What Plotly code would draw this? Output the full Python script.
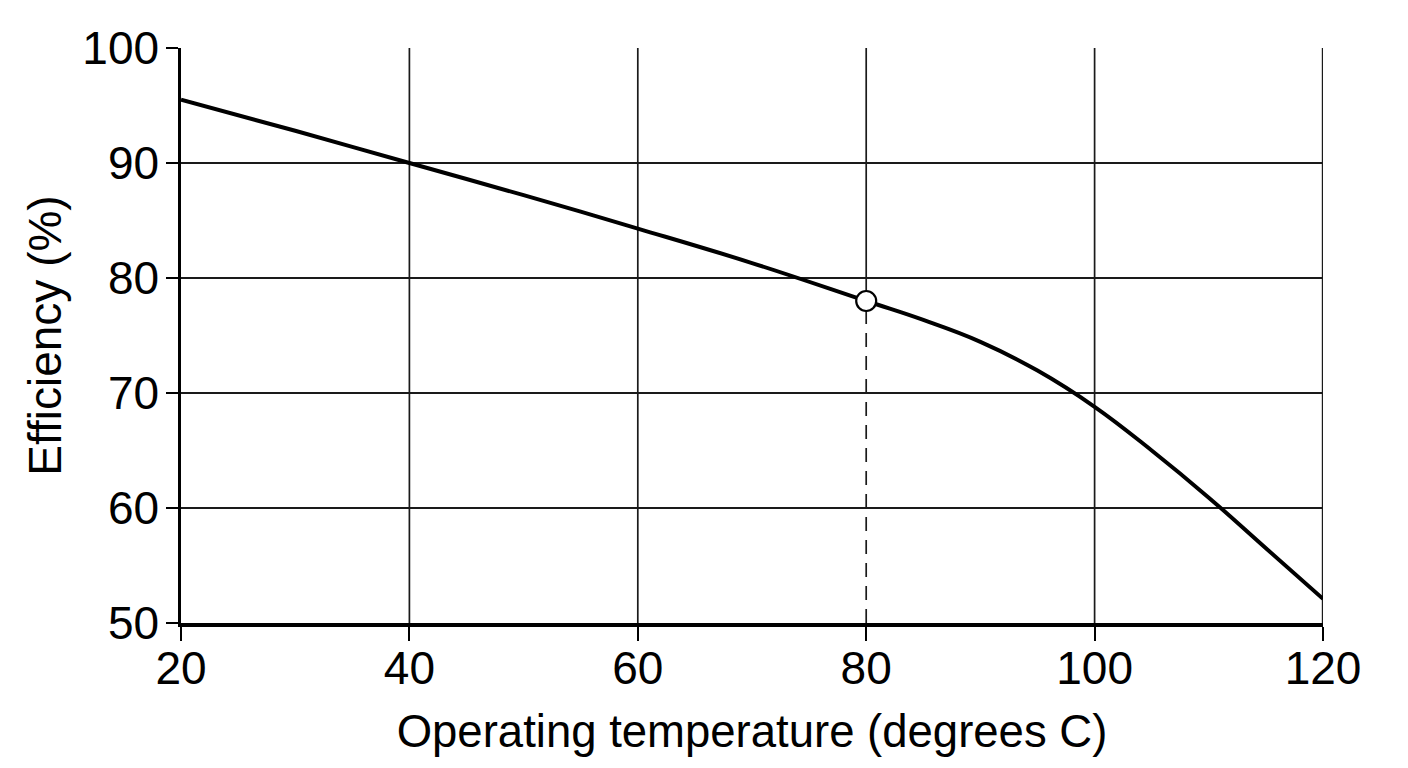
import plotly.graph_objects as go

temperature = [20, 30, 40, 50, 60, 70, 80, 85, 90, 95, 100, 105, 110, 115, 120]
efficiency = [95.5, 92.8, 90.0, 87.2, 84.3, 81.3, 78.0, 76.35, 74.45, 71.95, 68.8, 65.0, 60.9, 56.5, 52.1]
marked_temp = [80]
marked_eff = [78.0]
x_ticks = [20, 40, 60, 80, 100, 120]
y_ticks = [50, 60, 70, 80, 90, 100]

FONT = "Liberation Sans, Arial, sans-serif"
GRID = "#1a1a1a"

fig = go.Figure()

# vertical grid lines (the one at the marked temperature only runs above the point)
for xv in x_ticks[1:]:
    y_lo = marked_eff[0] if xv == marked_temp[0] else y_ticks[0]
    fig.add_trace(go.Scatter(
        x=[xv, xv], y=[y_lo, y_ticks[-1]], mode="lines",
        line=dict(color=GRID, width=1.7 if xv != x_ticks[-1] else 2.4),
        hoverinfo="skip", showlegend=False,
    ))

# dashed drop line from the marked point to the x axis
fig.add_trace(go.Scatter(
    x=[marked_temp[0], marked_temp[0]], y=[y_ticks[0], marked_eff[0]],
    mode="lines", line=dict(color=GRID, width=1.7, dash="14px,9px"),
    hoverinfo="skip", showlegend=False,
))

fig.add_trace(go.Scatter(
    x=temperature, y=efficiency, mode="lines",
    line=dict(color="black", width=4, shape="spline", smoothing=1.2),
    showlegend=False,
))

fig.add_trace(go.Scatter(
    x=marked_temp, y=marked_eff, mode="markers",
    marker=dict(size=20, color="white", line=dict(color="black", width=2.2)),
    showlegend=False,
))

fig.update_layout(
    width=1408, height=768,
    margin=dict(l=173, r=93, t=40, b=153),
    paper_bgcolor="white", plot_bgcolor="white",
    font=dict(family=FONT, color="black", size=46),
)

fig.update_xaxes(
    range=[20, 120], tickvals=x_ticks, ticks="outside", ticklen=14, tickwidth=1.7,
    tickcolor="black", showgrid=False,
    showline=True, linecolor="black", linewidth=3.5, zeroline=False,
    tickfont=dict(size=46, family=FONT), ticklabelstandoff=-12,
    title=dict(text="Operating temperature (degrees C)", font=dict(size=45.5, family=FONT), standoff=23),
)
fig.update_yaxes(
    range=[50, 100], tickvals=y_ticks, ticks="outside", ticklen=12, tickwidth=1.7,
    tickcolor="black", showgrid=True, gridcolor=GRID, gridwidth=1.7,
    showline=True, linecolor="black", linewidth=2.5, zeroline=False,
    tickfont=dict(size=46, family=FONT), ticklabelstandoff=-2,
    title=dict(text="Efficiency (%)", font=dict(size=46, family=FONT), standoff=7),
)

fig.write_html("out.html")
